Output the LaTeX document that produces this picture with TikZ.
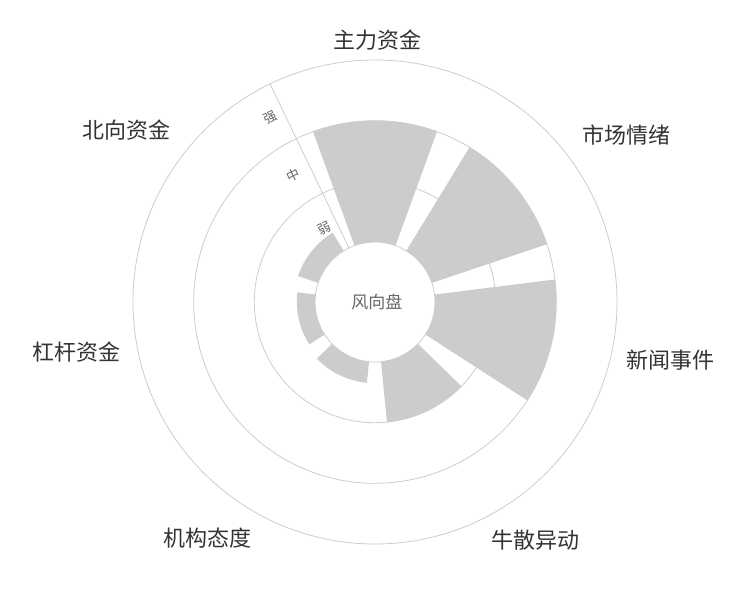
\documentclass[tikz,border=0pt]{standalone}
\usepackage{fontspec}
\setmainfont{Noto Sans CJK SC}
\begin{document}
\begin{tikzpicture}[x=1pt,y=1pt,
  grid/.style={draw=black!20,line width=0.8pt},
  barfill/.style={fill=black!20},
  cat/.style={text=black!80,font=\fontsize{22}{24}\selectfont},
  axlab/.style={text=black!60,font=\fontsize{13}{14}\selectfont,rotate=25.7}]
\useasboundingbox (-375,-298) rectangle (375,302);
\foreach \r in {60,120.7,181.3,242} \draw[grid] (0,0) circle[radius=\r];
\coordinate (a0) at (115.7:60);
\coordinate (a1) at (115.7:242);
\draw[grid] (a0) -- (a1);
\foreach \k/\v in {0/2,1/2,2/2,3/1,4/0.35,5/0.3,6/0.35}{
  \pgfmathsetmacro{\ta}{90-51.4286*\k-20}
  \pgfmathsetmacro{\tb}{90-51.4286*\k+20}
  \pgfmathsetmacro{\R}{60+60.67*\v}
  \fill[barfill] (\ta:60) -- (\ta:\R) arc[start angle=\ta,end angle=\tb,radius=\R] -- (\tb:60) arc[start angle=\tb,end angle=\ta,radius=60] -- cycle;
}
\node[axlab] (s) at (-105,184) {强};
\node[axlab] (m) at (-82,127) {中};
\node[axlab] (w) at (-51,74) {弱};
\node[text=black!60,font=\fontsize{17}{18}\selectfont] (c) at (2,0) {风向盘};
\node[cat] (n0) at (3,262) {主力资金};
\node[cat] (n1) at (251,167) {市场情绪};
\node[cat] (n2) at (295,-58) {新闻事件};
\node[cat] (n3) at (161,-238) {牛散异动};
\node[cat] (n4) at (-167,-236) {机构态度};
\node[cat] (n5) at (-298,-50) {杠杆资金};
\node[cat] (n6) at (-248,172) {北向资金};
\end{tikzpicture}
\end{document}
